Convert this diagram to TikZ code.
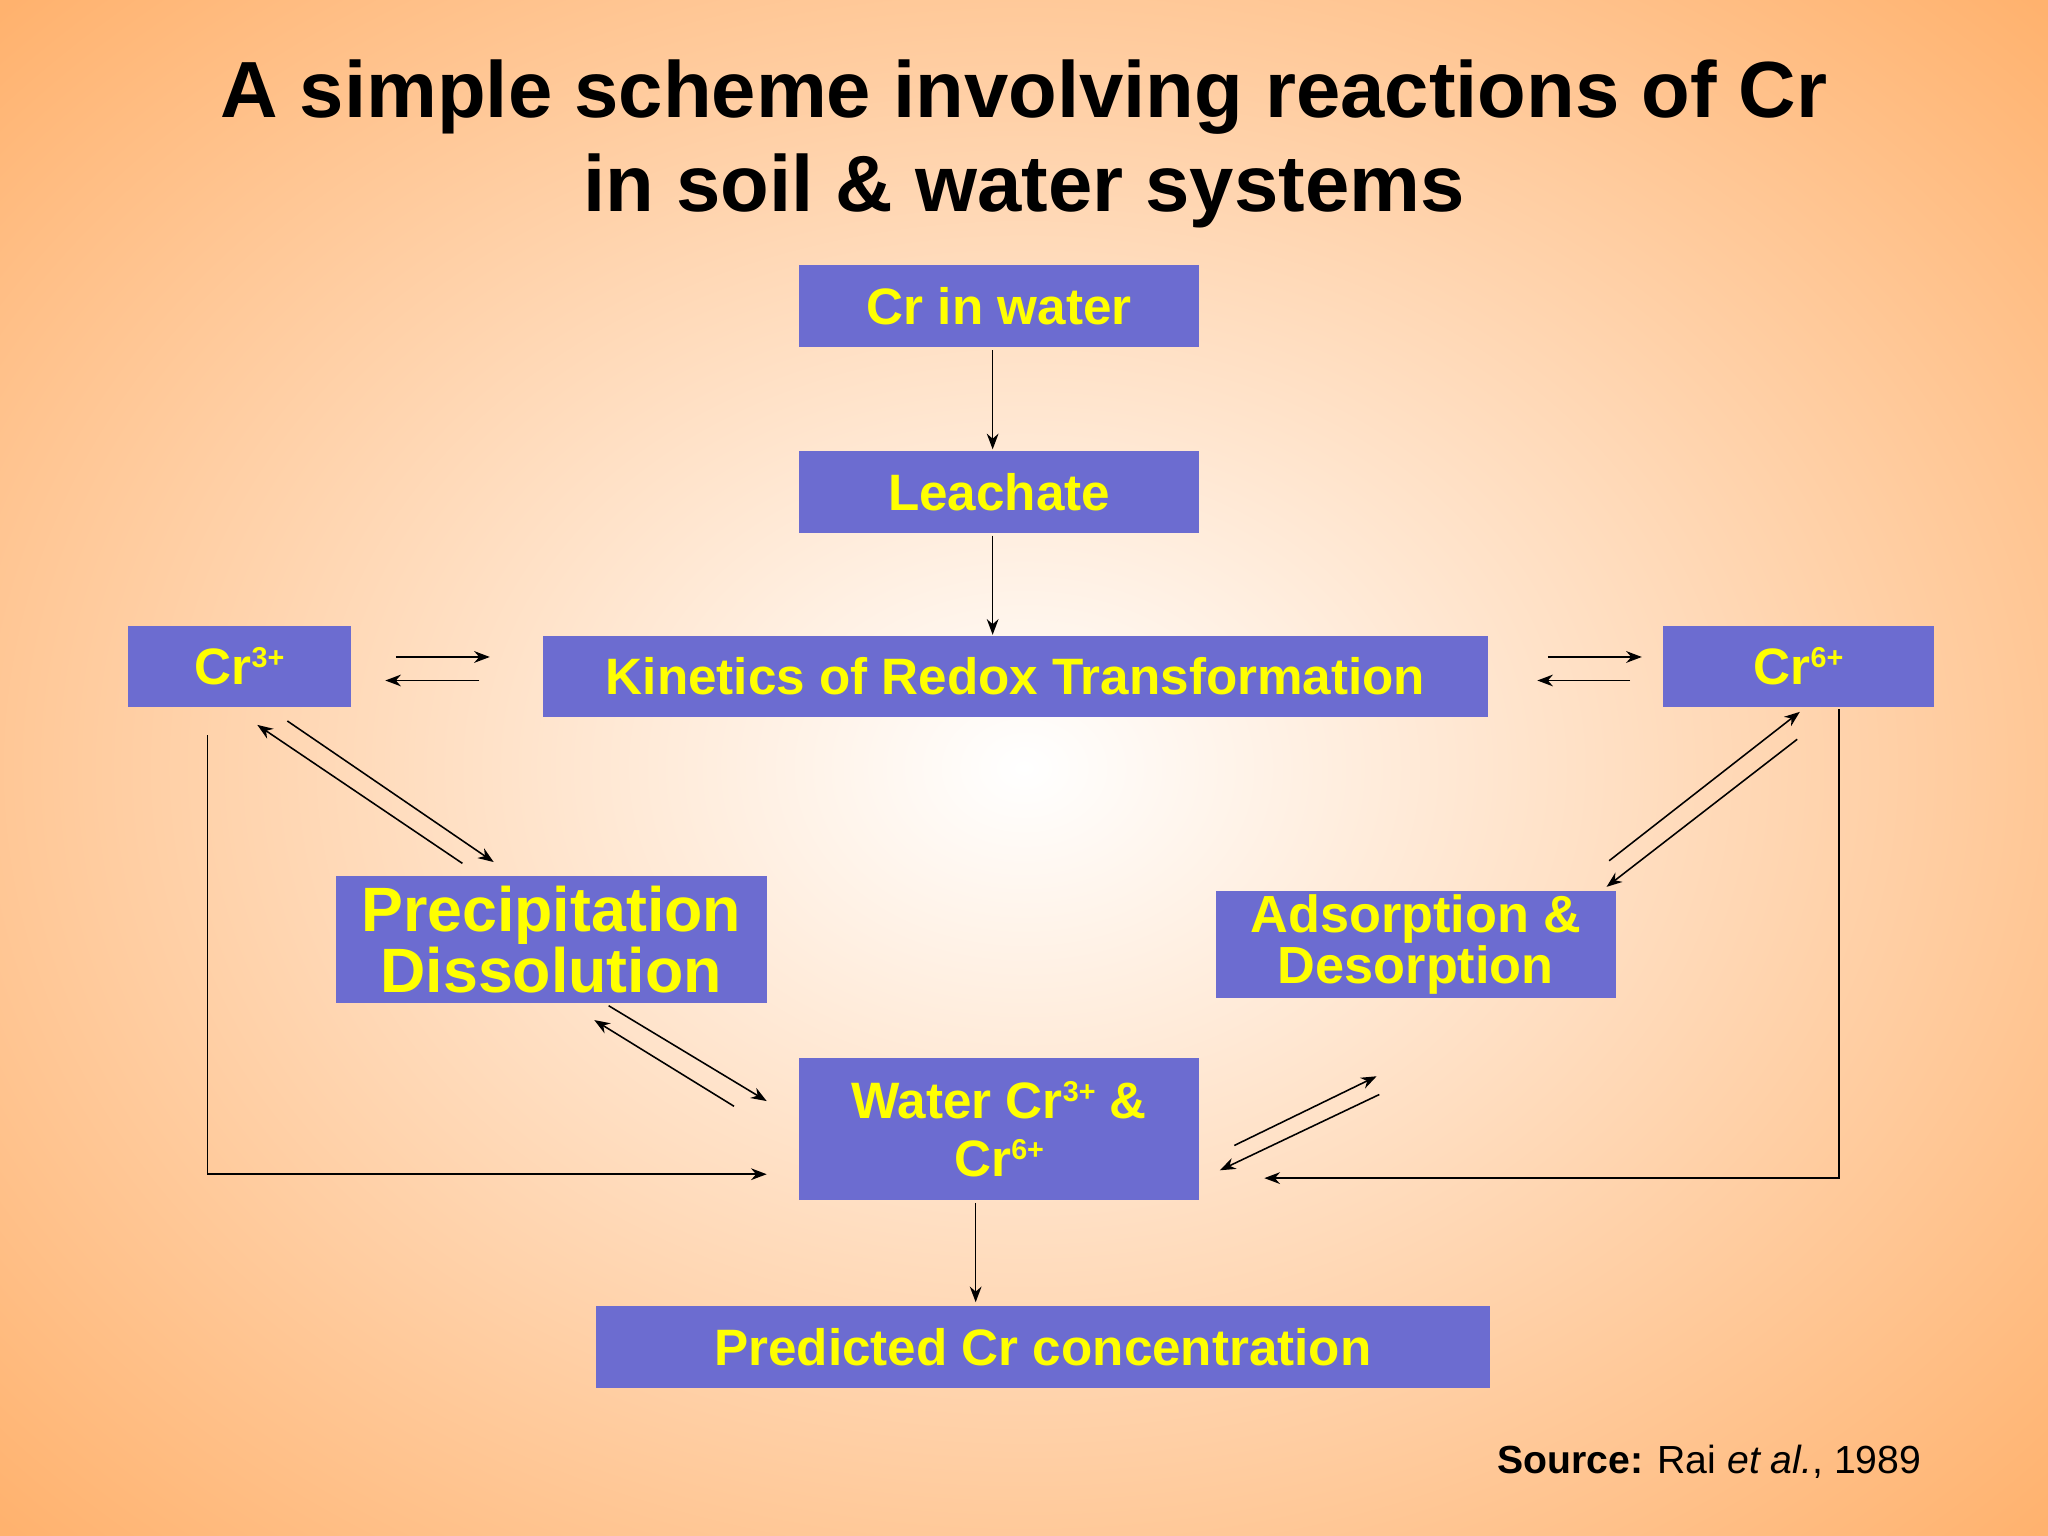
\documentclass[tikz,border=0pt]{standalone}
\usepackage{fontspec}
\setmainfont{Liberation Sans}
\usetikzlibrary{arrows.meta}
\definecolor{boxc}{RGB}{108,108,208}
\definecolor{txt}{RGB}{255,255,0}
\definecolor{org}{RGB}{255,178,110}
\newcommand{\sps}[1]{\raisebox{0.33em}{\fontsize{11}{11}\selectfont #1}}
\begin{document}
\begin{tikzpicture}[x=0.5pt,y=-0.5pt,
  box/.style={draw=none,fill=boxc,text=txt,font=\bfseries\fontsize{19.6}{21}\selectfont,inner sep=0pt,align=center},
  ar/.style={-{Stealth[length=6pt,width=4.5pt]},line width=0.6pt}]
\useasboundingbox (0,0) rectangle (1568,1176);
\shade[inner color=white,outer color=org] (-300,-250) rectangle (1868,1426);
\node[font=\bfseries\fontsize{30.5}{36}\selectfont,align=center] (title) at (784,110) {A simple scheme involving reactions of Cr\\in soil \& water systems};
\node[box,minimum width=153pt,minimum height=31.5pt] (w) at (765,234.5) {Cr in water};
\node[box,minimum width=153pt,minimum height=31.5pt] (l) at (765,376.5) {Leachate};
\node[box,minimum width=361.5pt,minimum height=31pt] (k) at (777.5,518) {Kinetics of Redox Transformation};
\node[box,minimum width=85.5pt,minimum height=31pt] (c3) at (183.5,510) {Cr\sps{3+}};
\node[box,minimum width=104pt,minimum height=31pt] (c6) at (1377,510) {Cr\sps{6+}};
\node[box,minimum width=165pt,minimum height=48.5pt,font=\bfseries\fontsize{24}{20}\selectfont] (p) at (422,719.5) {Precipitation\\Dissolution};
\node[box,minimum width=153pt,minimum height=41pt,font=\bfseries\fontsize{20}{16.5}\selectfont] (a) at (1084,723) {Adsorption \&\\Desorption};
\node[box,minimum width=153pt,minimum height=54.5pt,font=\bfseries\fontsize{19.6}{22}\selectfont] (wc) at (765,864.5) {Water Cr\sps{3+} \&\\Cr\sps{6+}};
\node[box,minimum width=342.5pt,minimum height=31.5pt] (pr) at (798.5,1031.5) {Predicted Cr concentration};
\node[anchor=base east,font=\fontsize{15}{18}\selectfont] (src) at (1478,1128) {\textbf{Source:} Rai \textit{et al.}, 1989};
\draw[ar] (760,268) -- (760,344);
\draw[ar] (760,410) -- (760,486);
\draw[ar] (747,921) -- (747,997);
\draw[ar] (303,503) -- (375,503);
\draw[ar] (367,521) -- (295,521);
\draw[ar] (1185,503) -- (1257,503);
\draw[ar] (1248,521) -- (1177,521);
\draw[ar] (220,552) -- (378,660);
\draw[ar] (354,661) -- (197,555);
\draw[ar] (1232,659) -- (1378,545);
\draw[ar] (1376,566) -- (1230,679);
\draw[ar] (466,770) -- (587,843);
\draw[ar] (562,847) -- (455,781);
\draw[ar] (945,877) -- (1054,824);
\draw[ar] (1056,838) -- (934,896);
\draw[ar] (159,563) -- (159,899) -- (587,899);
\draw[ar] (1408,543) -- (1408,902) -- (968,902);
\end{tikzpicture}
\end{document}
